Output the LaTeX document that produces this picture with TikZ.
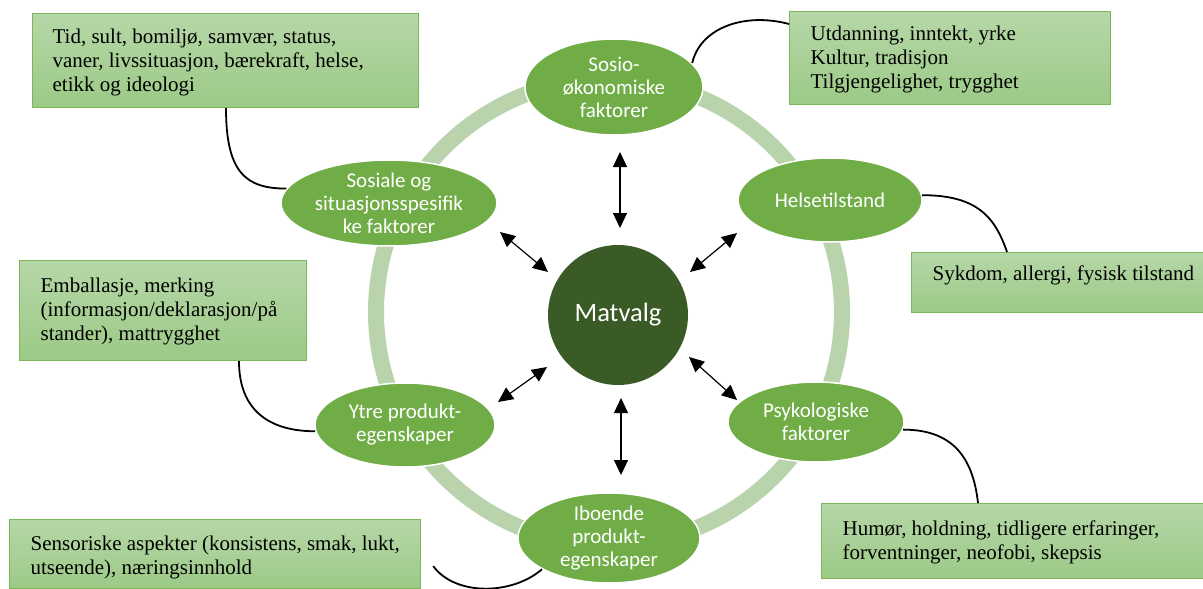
\documentclass[tikz,border=0pt]{standalone}
\usepackage{fontspec}
\setmainfont{Liberation Serif}
\newfontfamily\ovalfont{Carlito}
\usetikzlibrary{arrows.meta,shapes.geometric}

\definecolor{ovalgreen}{HTML}{70AD47}
\definecolor{coregreen}{HTML}{3A5A26}
\definecolor{ringgreen}{HTML}{B9D4AD}
\definecolor{boxtop}{HTML}{B6D7A8}
\definecolor{boxbottom}{HTML}{9CCA86}
\definecolor{boxedge}{HTML}{7DB65A}

% box text: a left-aligned block, first baseline at the top of the box
\newcommand{\boxlines}[3]{\makebox[#1][l]{\hspace*{#2}\begin{tabular}[t]{@{}l@{}}#3\end{tabular}}}

\tikzset{
  factor/.style={ellipse, fill=ovalgreen, draw=white, line width=1.5pt,
    text=white, align=center, inner xsep=0pt, inner ysep=-20pt,
    font=\ovalfont\fontsize{21}{23}\selectfont},
  core/.style={circle, fill=coregreen, text=white, minimum size=140pt,
    inner sep=0pt, font=\ovalfont\fontsize{26.5}{30}\selectfont},
  infobox/.style={rectangle, draw=boxedge, line width=1.2pt,
    top color=boxtop, bottom color=boxbottom, inner sep=0pt,
    anchor=north west, font=\fontsize{21}{24}\selectfont},
  link/.style={line width=1.8pt, black},
  biarrow/.style={line width=1.2pt, black,
    {Triangle[length=15pt,width=14pt]}-{Triangle[length=15pt,width=14pt]}},
  ring/.style={line width=16pt, ringgreen},
}

\begin{document}
\begin{tikzpicture}[x=1pt,y=-1pt]
\useasboundingbox (0,0) rectangle (1203,589);
\fill[white] (0,0) rectangle (1203,589);

% the ring that joins the six factors
\coordinate (hub) at (609,312);
\draw[ring] (hub) circle[radius=233pt];

% factors
\node[factor, minimum width=178pt, minimum height=96pt] (top) at (614,87)
  {Sosio-\\økonomiske\\faktorer};
\node[factor, minimum width=184pt, minimum height=84pt] (hel) at (830,200)
  {Helsetilstand};
\node[factor, minimum width=176pt, minimum height=80pt] (psy) at (816,422)
  {Psykologiske\\faktorer};
\node[factor, minimum width=182pt, minimum height=90pt] (ibo) at (609,538)
  {Iboende\\produkt-\\egenskaper};
\node[factor, minimum width=180pt, minimum height=84pt] (ytr) at (405,425)
  {Ytre produkt-\\egenskaper};
\node[factor, minimum width=216pt, minimum height=86pt] (sos) at (389,203)
  {Sosiale og\\situasjonsspesifik\\ke faktorer};

% the centre
\node[core] (mv) at (618,315) {Matvalg};

% two-way influences
\draw[biarrow] ([shift={(2pt,87pt)}]mv.center) -- ([shift={(6pt,-65pt)}]top.center);
\draw[biarrow] ([shift={(3pt,-83pt)}]mv.center) -- ([shift={(12pt,63pt)}]ibo.center);
\draw[biarrow] ([shift={(-70pt,43pt)}]mv.center) -- ([shift={(111pt,-29pt)}]sos.center);
\draw[biarrow] ([shift={(72pt,43pt)}]mv.center) -- ([shift={(-93pt,-33pt)}]hel.center);
\draw[biarrow] ([shift={(-71pt,-52pt)}]mv.center) -- ([shift={(93pt,23pt)}]ytr.center);
\draw[biarrow] ([shift={(71pt,-42pt)}]mv.center) -- ([shift={(-79pt,22pt)}]psy.center);

% description boxes
\node[infobox, text height=30pt, text depth=64pt] (b1) at (32,13)
  {\boxlines{386pt}{20pt}{Tid, sult, bomiljø, samvær, status,\\vaner, livssituasjon, bærekraft, helse,\\etikk og ideologi}};
\node[infobox, text height=29pt, text depth=64pt] (b2) at (789,11)
  {\boxlines{321pt}{21pt}{Utdanning, inntekt, yrke\\Kultur, tradisjon\\Tilgjengelighet, trygghet}};
\node[infobox, text height=28pt, text depth=32pt] (b3) at (911,252)
  {\boxlines{292pt}{21pt}{Sykdom, allergi, fysisk tilstand}};
\node[infobox, text height=32pt, text depth=68pt] (b4) at (19,260)
  {\boxlines{287pt}{21pt}{Emballasje, merking\\(informasjon/deklarasjon/på\\stander), mattrygghet}};
\node[infobox, text height=32pt, text depth=43pt] (b5) at (821,503)
  {\boxlines{382pt}{21pt}{Humør, holdning, tidligere erfaringer,\\forventninger, neofobi, skepsis}};
\node[infobox, text height=31pt, text depth=38pt] (b6) at (9,519)
  {\boxlines{411pt}{21pt}{Sensoriske aspekter (konsistens, smak, lukt,\\utseende), næringsinnhold}};

% curved links from the boxes to their factors
\coordinate (b6tail) at ([xshift=12pt,yshift=-12pt]b6.east);
\draw[link] ([xshift=194pt]b1.south west) .. controls +(0pt,-65pt) and +(-40pt,0pt) .. (sos.172);
\draw[link] (top.17) .. controls +(8pt,35pt) and +(-45pt,12pt) .. ([yshift=-13pt]b2.north west);
\draw[link] (hel.3) .. controls +(55pt,0pt) and +(-12pt,35pt) .. ([xshift=96pt]b3.north west);
\draw[link] ([xshift=220pt]b4.south west) .. controls +(0pt,-50pt) and +(-45pt,0pt) .. (ytr.184);
\draw[link] (psy.-5) .. controls +(50pt,0pt) and +(-5pt,45pt) .. ([xshift=157pt]b5.north west);
\draw[link] (b6tail) .. controls +(22pt,-30pt) and +(-30pt,-26pt) .. (ibo.205);
\end{tikzpicture}
\end{document}
